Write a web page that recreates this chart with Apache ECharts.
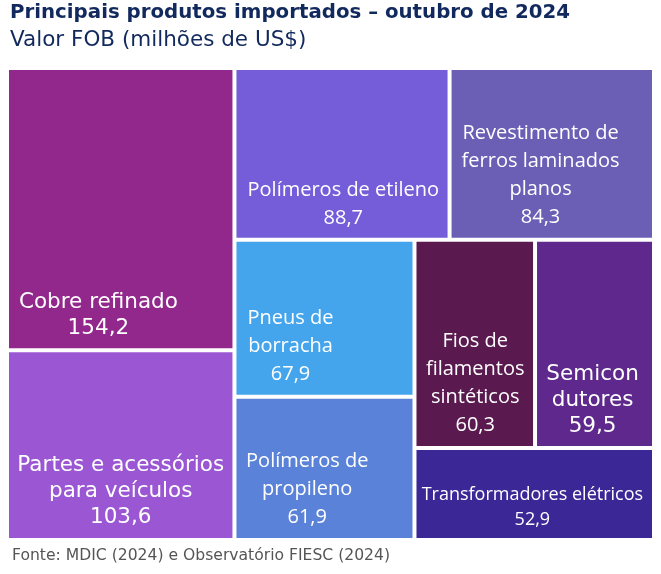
<!DOCTYPE html>
<html><head><meta charset="utf-8">
<script src="https://cdn.jsdelivr.net/npm/echarts@6/dist/echarts.min.js"></script>
<style>html,body{margin:0;padding:0;background:#fff}#c{width:661px;height:574px}</style>
</head><body><div id="c"></div>
<script>
// ---- data ----
const categories = ['Cobre refinado', 'Partes e acessórios para veículos', 'Polímeros de etileno',
  'Revestimento de ferros laminados planos', 'Pneus de borracha', 'Polímeros de propileno',
  'Fios de filamentos sintéticos', 'Semicondutores', 'Transformadores elétricos'];
const labelTexts = ['Cobre refinado', 'Partes e acessórios\npara veículos', 'Polímeros de etileno',
  'Revestimento de\nferros laminados\nplanos', 'Pneus de\nborracha', 'Polímeros de\npropileno',
  'Fios de\nfilamentos\nsintéticos', 'Semicon\ndutores', 'Transformadores elétricos'];
const values = [154.2, 103.6, 88.7, 84.3, 67.9, 61.9, 60.3, 59.5, 52.9];

// ---- styles ----
const colors = ['#92278C', '#9B57D3', '#755DD9', '#6A5FB5', '#45A5EC', '#5A82D8', '#5A1A50', '#5E288C', '#3B2796'];
const labelPos = [['40%', '88%'], ['50%', '75%'], ['50.6%', '80%'], ['44.4%', '62.7%'], ['30.7%', '68%'],
  ['40.2%', '64.7%'], ['50.4%', '69.3%'], ['48.3%', '77.6%'], ['49.2%', '65.3%']];
const fontA = {fontFamily: 'DejaVu Sans', fontSize: 21.5, lineHeight: 26};
const fontB = {fontFamily: 'Open Sans', fontSize: 20, lineHeight: 28};
const fontC = {fontFamily: 'Open Sans', fontSize: 18, lineHeight: 25};
const labelFonts = [fontA, fontA, fontB, fontB, fontB, fontB, fontB, fontA, fontC];

const fmt = v => v.toFixed(1).replace('.', ',');

const data = categories.map((name, i) => ({
  name: name,
  value: values[i],
  itemStyle: {color: colors[i]},
  label: Object.assign({
    position: labelPos[i],
    align: 'center',
    verticalAlign: 'middle',
    formatter: labelTexts[i] + '\n' + fmt(values[i])
  }, labelFonts[i])
}));

const chart = echarts.init(document.getElementById('c'), null, {renderer: 'canvas'});
chart.setOption({
  animation: false,
  title: [
    {text: 'Principais produtos importados – outubro de 2024', left: 10, top: 1, padding: 0,
      textStyle: {fontFamily: 'DejaVu Sans', fontWeight: 'bold', fontSize: 19.8, lineHeight: 24, color: '#12295E'}},
    {text: 'Valor FOB (milhões de US$)', left: 10, top: 28, padding: 0,
      textStyle: {fontFamily: 'DejaVu Sans', fontWeight: 'normal', fontSize: 21.5, lineHeight: 24, color: '#12295E'}},
    {text: 'Fonte: MDIC (2024) e Observatório FIESC (2024)', left: 12, top: 546, padding: 0,
      textStyle: {fontFamily: 'DejaVu Sans', fontWeight: 'normal', fontSize: 15.6, lineHeight: 20, color: '#555555'}}
  ],
  series: [{
    type: 'treemap',
    left: 9, top: 70, width: 643, height: 468,
    squareRatio: 1,
    sort: 'desc',
    roam: false,
    nodeClick: false,
    breadcrumb: {show: false},
    silent: true,
    itemStyle: {borderWidth: 0, gapWidth: 4, borderColor: '#fff'},
    label: {show: true, color: '#ffffff', padding: 0, overflow: 'none'},
    emphasis: {disabled: true},
    data: data
  }]
});
</script></body></html>
